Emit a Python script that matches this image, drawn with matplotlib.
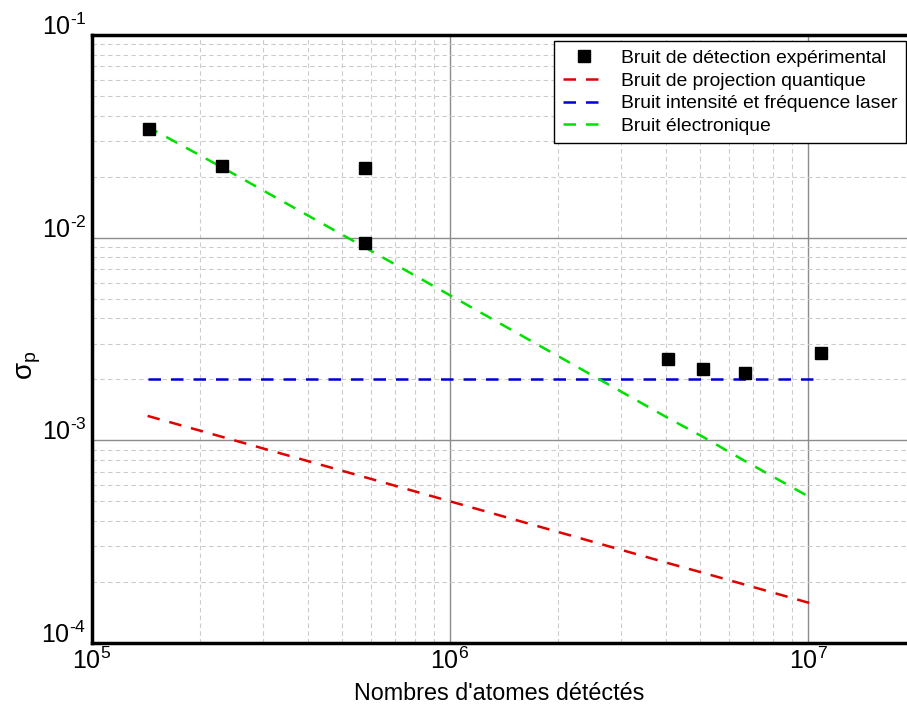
import matplotlib
matplotlib.use("Agg")
import matplotlib.pyplot as plt
import numpy as np
from matplotlib.ticker import FixedLocator, FuncFormatter, LogLocator, NullFormatter

plt.rcParams["font.family"] = ["Liberation Sans", "DejaVu Sans"]
plt.rcParams["mathtext.fontset"] = "custom"
plt.rcParams["mathtext.rm"] = "Liberation Sans"
plt.rcParams["mathtext.it"] = "Liberation Sans"
plt.rcParams["mathtext.default"] = "regular"

# measured detection noise
exp_atoms = [1.44e5, 2.31e5, 5.80e5, 5.80e5, 4.06e6, 5.09e6, 6.67e6, 1.09e7]
exp_sigma = [0.0344, 0.0226, 0.0221, 0.00944, 0.00251, 0.00226, 0.00216, 0.00271]

# model curves
proj_atoms = [1.43e5, 2.31e5, 5.80e5, 4.06e6, 5.09e6, 6.67e6, 1.07e7]
proj_sigma = [0.00132, 0.00104, 0.000657, 0.000248, 0.000222, 0.000194, 0.000153]

laser_atoms = [1.43e5, 2.31e5, 5.80e5, 4.06e6, 5.09e6, 6.67e6, 1.07e7]
laser_sigma = [0.002, 0.002, 0.002, 0.002, 0.002, 0.002, 0.002]

elec_atoms = [1.42e5, 2.31e5, 5.80e5, 4.06e6, 5.09e6, 6.67e6, 1.0e7]
elec_sigma = [0.0355, 0.0222, 0.00893, 0.00129, 0.00104, 0.00079, 0.00053]

x_major = [1e5, 1e6, 1e7]
y_major = [1e-4, 1e-3, 1e-2, 1e-1]


def pow10_label(v, pos):
    return r"$10^{\text{%d}}$" % int(round(np.log10(v)))


fig = plt.figure(figsize=(9.07, 7.04), dpi=100)
ax = fig.add_axes([92 / 907, 1 - 643 / 704, 1 - 92 / 907, (643 - 35) / 704])

ax.plot(exp_atoms, exp_sigma, "s", color="black", markersize=9,
        label="Bruit de détection expérimental", zorder=5)
ax.plot(proj_atoms, proj_sigma, "--", color="#e00000", linewidth=1.8,
        dashes=(5, 4), label="Bruit de projection quantique")
ax.plot(laser_atoms, laser_sigma, "--", color="#0000d0", linewidth=1.8,
        dashes=(5, 4), label="Bruit intensité et fréquence laser")
ax.plot(elec_atoms, elec_sigma, "--", color="#00e000", linewidth=1.8,
        dashes=(5, 4), label="Bruit électronique")

ax.set_xscale("log")
ax.set_yscale("log")
ax.set_xlim(1e5, 1.89e7)
ax.set_ylim(1e-4, 1e-1)

ax.xaxis.set_major_locator(FixedLocator(x_major))
ax.yaxis.set_major_locator(FixedLocator(y_major))
ax.xaxis.set_major_formatter(FuncFormatter(pow10_label))
ax.yaxis.set_major_formatter(FuncFormatter(pow10_label))
ax.xaxis.set_minor_locator(LogLocator(base=10, subs=range(2, 10)))
ax.yaxis.set_minor_locator(LogLocator(base=10, subs=range(2, 10)))
ax.xaxis.set_minor_formatter(NullFormatter())
ax.yaxis.set_minor_formatter(NullFormatter())

ax.grid(True, which="major", color="#8c8c8c", linewidth=1.0, linestyle="-")
ax.grid(True, which="minor", color="#cccccc", linewidth=0.8, linestyle=(0, (4, 3)))
ax.set_axisbelow(True)

ax.tick_params(which="both", length=0, labelsize=18)
ax.tick_params(axis="x", pad=3)
ax.tick_params(axis="y", pad=4)
for lab in ax.get_yticklabels():
    lab.set_va("baseline")

for side in ("left", "bottom", "top"):
    ax.spines[side].set_linewidth(2.5)
ax.spines["right"].set_visible(False)

ax.set_xlabel("Nombres d'atomes détéctés", fontsize=16.8)
ax.xaxis.set_label_coords(0.5, -0.064)
ax.set_ylabel(r"$\sigma_p$", fontsize=20)
ax.yaxis.set_label_coords(-0.060, 0.457)

leg = ax.legend(loc="upper right", bbox_to_anchor=(906 / 907, 1 - 41 / 704),
                bbox_transform=fig.transFigure, borderaxespad=0,
                fontsize=13.9, frameon=True, fancybox=False,
                edgecolor="black", framealpha=1, borderpad=0.45,
                handlelength=2.2, handletextpad=0.8, labelspacing=0.26)
leg.get_frame().set_linewidth(1.0)

fig.savefig("out.png", dpi=100)
